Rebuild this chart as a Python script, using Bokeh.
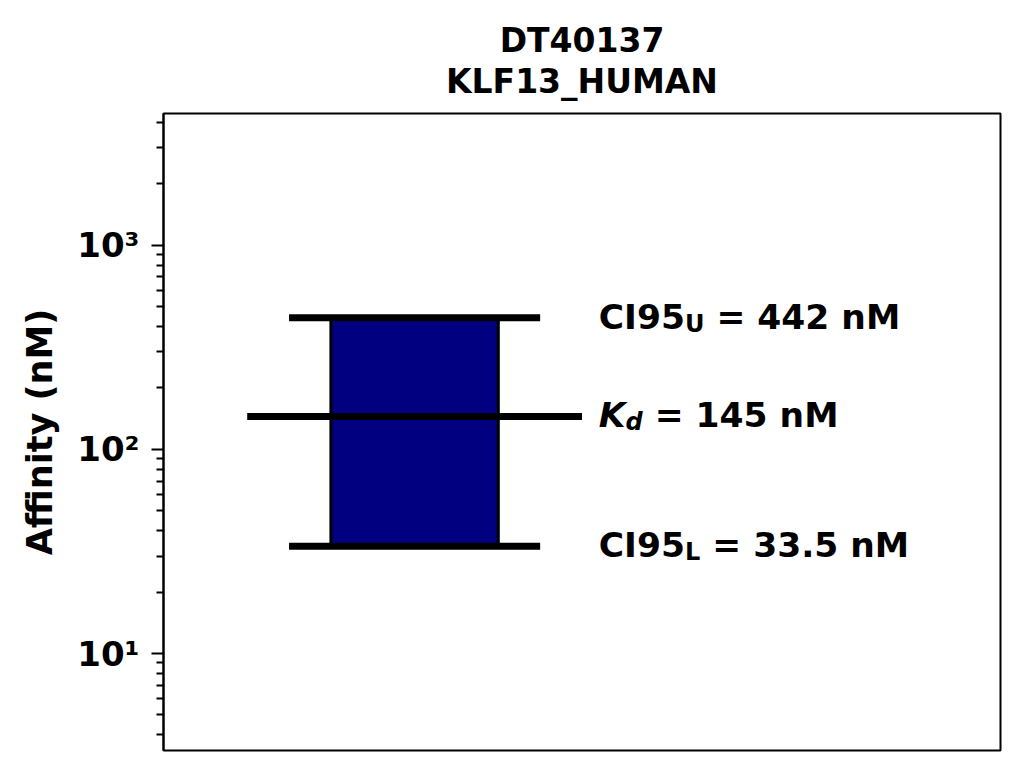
from bokeh.plotting import figure
from bokeh.models import Range1d, FixedTicker, CustomJSTickFormatter
from bokeh.core.properties import value
from bokeh.embed import file_html
from bokeh.resources import INLINE

# ---- data ----
dataset_id = "DT40137"
protein = "KLF13_HUMAN"
kd = [145.0]
ci95_lower = [33.5]
ci95_upper = [442.0]
major_ticks = [10, 100, 1000]
minor_mantissas = [2, 3, 4, 5, 6, 7, 8, 9]
tick_decades = [0, 1, 2, 3]
y_label = "Affinity (nM)"

# ---- style ----
FONT = "DejaVu Sans"
F = 34.5            # annotation text size (px)
S = 24              # subscript size
NAVY = "#000080"

ADV = {"C": 0.734, "I": 0.372, "9": 0.696, "5": 0.696, "U": 0.812, "L": 0.637,
       "K": 0.775, "d": 0.716, " ": 0.348, "=": 0.838, "4": 0.696, "2": 0.696,
       "1": 0.696, "3": 0.696, ".": 0.380, "n": 0.712, "M": 0.995, "0": 0.696,
       "6": 0.696, "7": 0.696, "8": 0.696}


def width(s, size):
    return sum(ADV.get(c, 0.7) for c in s) * size


y_lo = ci95_lower[0] / 10
y_hi = ci95_upper[0] * 10

p = figure(width=1008, height=759, y_axis_type="log",
           x_range=Range1d(0, 1), y_range=Range1d(y_lo, y_hi),
           output_backend="svg", toolbar_location=None,
           min_border_left=163, min_border_right=8,
           min_border_top=113, min_border_bottom=9)

p.background_fill_color = "white"
p.border_fill_color = "white"
p.outline_line_color = "black"
p.outline_line_width = 2
p.grid.visible = False
p.xaxis.visible = False

# ---- axis ----
minor = [m * 10 ** e for e in tick_decades for m in minor_mantissas]
p.yaxis.ticker = FixedTicker(ticks=major_ticks, minor_ticks=minor)
p.yaxis.formatter = CustomJSTickFormatter(code="""
const sup = {"-":"\u207b","0":"\u2070","1":"\u00b9","2":"\u00b2","3":"\u00b3","4":"\u2074","5":"\u2075","6":"\u2076","7":"\u2077","8":"\u2078","9":"\u2079"};
const e = Math.round(Math.log10(tick));
return "10" + String(e).split("").map(c => sup[c]).join("");
""")
ax = p.yaxis[0]
ax.axis_label = y_label
ax.axis_label_text_font = FONT
ax.axis_label_text_font_style = "bold"
ax.axis_label_text_font_size = "35px"
ax.axis_label_text_color = "black"
ax.axis_label_standoff = 14
ax.major_label_text_font = FONT
ax.major_label_text_font_style = "bold"
ax.major_label_text_font_size = "34px"
ax.major_label_text_color = "black"
ax.major_label_standoff = 12
ax.axis_line_color = "black"
ax.axis_line_width = 2
ax.major_tick_line_color = "black"
ax.major_tick_line_width = 2
ax.major_tick_out = 12
ax.major_tick_in = 0
ax.minor_tick_line_color = "black"
ax.minor_tick_line_width = 2
ax.minor_tick_out = 7
ax.minor_tick_in = 0

# ---- title (two lines) ----
p.title.text = dataset_id + "\n" + protein
p.title.align = "center"
if "text_align" in p.title.properties():
    p.title.text_align = "center"
p.title.text_font = FONT
p.title.text_font_style = "bold"
p.title.text_font_size = "33px"
p.title.text_line_height = 1.067
p.title.text_color = "black"
p.title.standoff = 24

# ---- marks ----
p.quad(left=[0.2], right=[0.4], bottom=ci95_lower, top=ci95_upper,
       fill_color=NAVY, line_color="black", line_width=3)
for yv, x0, x1 in ((ci95_upper, 0.15, 0.45), (ci95_lower, 0.15, 0.45), (kd, 0.1, 0.5)):
    p.segment(x0=[x0], x1=[x1], y0=yv, y1=yv, line_color="black",
              line_width=7, line_cap="butt")

# ---- labels ----
tx = 0.52
base_dy = -1
sub_dy = 7


def fmt(v):
    return f"{v:g}"


def label(yv, pieces):
    off = 0.0
    for txt, size, style, dy in pieces:
        lead = len(txt) - len(txt.lstrip(" "))
        off += width(" " * lead, size)
        shown = txt.lstrip(" ")
        p.text(x=[tx], y=yv, text=[shown], x_offset=off, y_offset=base_dy + dy,
               text_font=value(FONT), text_font_size=f"{size}px",
               text_font_style=style, text_color="black",
               text_align="left", text_baseline="alphabetic")
        off += width(shown, size)


label(ci95_upper, [("CI95", F, "bold", 0), ("U", S, "bold", sub_dy),
                   (f" = {fmt(ci95_upper[0])} nM", F, "bold", 0)])
label(kd, [("K", F, "bold italic", 0), ("d", S, "bold italic", sub_dy),
           (f" = {fmt(kd[0])} nM", F, "bold", 0)])
label(ci95_lower, [("CI95", F, "bold", 0), ("L", S, "bold", sub_dy),
                   (f" = {fmt(ci95_lower[0])} nM", F, "bold", 0)])

open("out.html", "w").write(file_html(p, INLINE))
